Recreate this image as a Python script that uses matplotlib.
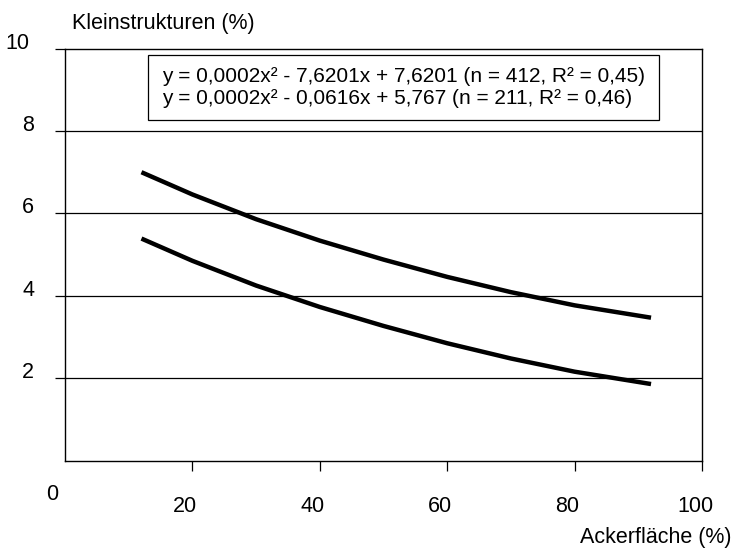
import matplotlib
matplotlib.use("Agg")
import matplotlib.pyplot as plt
import matplotlib.patches as patches
import matplotlib.transforms as mtransforms

plt.rcParams['font.family'] = ['Liberation Sans', 'DejaVu Sans']

# values
acker = [12, 20, 30, 40, 50, 60, 70, 80, 92]
klein_n412 = [7.00, 6.46, 5.86, 5.34, 4.88, 4.46, 4.09, 3.77, 3.47]
klein_n211 = [5.39, 4.85, 4.25, 3.73, 3.27, 2.85, 2.48, 2.16, 1.86]

x_ticks = [20, 40, 60, 80, 100]
y_ticks = [2, 4, 6, 8, 10]
eq_labels = [
    "y = 0,0002x\u00b2 - 7,6201x + 7,6201 (n = 412, R\u00b2 = 0,45)",
    "y = 0,0002x\u00b2 - 0,0616x + 5,767 (n = 211, R\u00b2 = 0,46)",
]

DPI = 100
fig = plt.figure(figsize=(7.33, 5.52), dpi=DPI)
ax = fig.add_axes([0.0887, 0.1654, 0.869, 0.7466])
ax.set_xlim(0, 100)
ax.set_ylim(0, 10)

# horizontal grid lines
for v in y_ticks[:-1]:
    ax.axhline(v, color='black', lw=0.9, zorder=1)

ax.plot(acker, klein_n412, color='black', lw=3.2, solid_capstyle='butt', zorder=3)
ax.plot(acker, klein_n211, color='black', lw=3.2, solid_capstyle='butt', zorder=3)

for s in ax.spines.values():
    s.set_linewidth(1.0)

ax.set_xticks(x_ticks)
ax.set_yticks(y_ticks)
ax.tick_params(axis='both', direction='out', length=7, width=0.9, color='black')
ax.set_xticklabels([])
ax.set_yticklabels([])

# tick labels placed by hand (offset like the original)
fs = 15.5
for v in x_ticks:
    tr = ax.get_xaxis_transform() + mtransforms.ScaledTranslation(-7 / DPI, -35 / DPI, fig.dpi_scale_trans)
    ax.text(v, 0, str(v), transform=tr, ha='center', va='top', fontsize=fs)
for v in y_ticks:
    dx = -31 if v < 10 else -36
    tr = ax.get_yaxis_transform() + mtransforms.ScaledTranslation(dx / DPI, 0, fig.dpi_scale_trans)
    ax.text(0, v, str(v), transform=tr, ha='right', va='baseline', fontsize=fs)
fig.text(52 / 733, 1 - 495 / 552, "0", ha='center', va='center', fontsize=fs)

fig.text(72 / 733, 1 - 23 / 552, "Kleinstrukturen (%)", ha='left', va='center', fontsize=fs)
fig.text(731 / 733, 1 - 538 / 552, "Ackerfl\u00e4che (%)", ha='right', va='center', fontsize=fs)

# equation box
eq = ax.text(0.152, 0.906, "\n".join(eq_labels), transform=ax.transAxes,
             ha='left', va='center', fontsize=15, linespacing=1.2, zorder=6)
fig.canvas.draw()
bb = eq.get_window_extent(fig.canvas.get_renderer())
pad_x, pad_y = 14, 12
rect = patches.Rectangle((bb.x0 - pad_x, bb.y0 - pad_y), bb.width + 2 * pad_x, bb.height + 2 * pad_y,
                         transform=mtransforms.IdentityTransform(), facecolor='white',
                         edgecolor='black', lw=0.9, zorder=5, clip_on=False)
ax.add_patch(rect)

fig.savefig("out.png", dpi=DPI)
